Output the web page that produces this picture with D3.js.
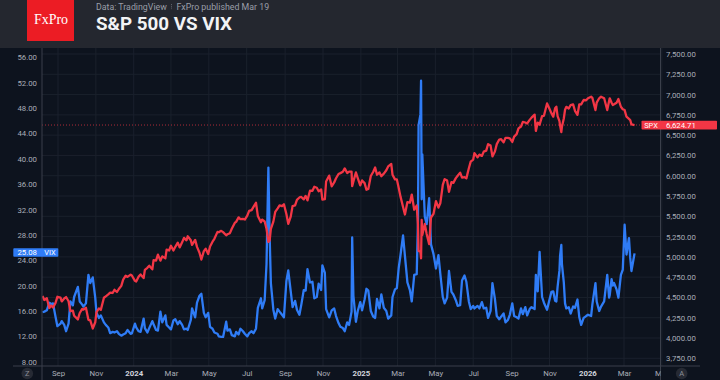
<!DOCTYPE html>
<html><head><meta charset="utf-8">
<script src="https://cdn.jsdelivr.net/npm/d3@7"></script>
<style>
html,body{margin:0;padding:0;background:#0d131e;}
svg{display:block;}
</style></head><body>
<svg id="c" width="720" height="380"></svg>
<script>
// ---------- DATA ----------
const dates = [
"2023-08-07","2023-08-10","2023-08-14","2023-08-18","2023-08-21","2023-08-24","2023-08-28","2023-08-31",
"2023-09-05","2023-09-07","2023-09-11","2023-09-14","2023-09-18","2023-09-21","2023-09-25","2023-09-27",
"2023-10-03","2023-10-06","2023-10-10","2023-10-12","2023-10-16","2023-10-20","2023-10-23","2023-10-27","2023-10-31",
"2023-11-02","2023-11-06","2023-11-09","2023-11-14","2023-11-17","2023-11-21","2023-11-24","2023-11-28",
"2023-12-01","2023-12-05","2023-12-08","2023-12-12","2023-12-15","2023-12-19","2023-12-22","2023-12-27","2023-12-29",
"2024-01-03","2024-01-05","2024-01-09","2024-01-12","2024-01-17","2024-01-19","2024-01-23","2024-01-26","2024-01-31",
"2024-02-02","2024-02-06","2024-02-09","2024-02-13","2024-02-16","2024-02-21","2024-02-23","2024-02-27",
"2024-03-01","2024-03-05","2024-03-08","2024-03-12","2024-03-15","2024-03-19","2024-03-22","2024-03-26","2024-03-28",
"2024-04-02","2024-04-04","2024-04-09","2024-04-12","2024-04-16","2024-04-19","2024-04-23","2024-04-26","2024-04-30",
"2024-05-03","2024-05-07","2024-05-10","2024-05-15","2024-05-17","2024-05-21","2024-05-24","2024-05-29","2024-05-31",
"2024-06-04","2024-06-07","2024-06-12","2024-06-14","2024-06-18","2024-06-21","2024-06-25","2024-06-28",
"2024-07-02","2024-07-05","2024-07-09","2024-07-12","2024-07-16","2024-07-19","2024-07-24","2024-07-26","2024-07-30",
"2024-08-02","2024-08-05","2024-08-07","2024-08-09","2024-08-13","2024-08-16","2024-08-20","2024-08-23","2024-08-27","2024-08-30",
"2024-09-03","2024-09-06","2024-09-10","2024-09-13","2024-09-17","2024-09-20","2024-09-24","2024-09-27",
"2024-10-01","2024-10-04","2024-10-07","2024-10-11","2024-10-15","2024-10-18","2024-10-22","2024-10-25","2024-10-29","2024-10-31",
"2024-11-04","2024-11-06","2024-11-11","2024-11-15","2024-11-19","2024-11-22","2024-11-26","2024-11-29",
"2024-12-03","2024-12-06","2024-12-10","2024-12-13","2024-12-17","2024-12-18","2024-12-20","2024-12-24","2024-12-27","2024-12-31",
"2025-01-03","2025-01-07","2025-01-10","2025-01-13","2025-01-17","2025-01-21","2025-01-24","2025-01-27","2025-01-31",
"2025-02-03","2025-02-07","2025-02-11","2025-02-14","2025-02-19","2025-02-21","2025-02-25","2025-02-28",
"2025-03-03","2025-03-06","2025-03-10","2025-03-13","2025-03-17","2025-03-21","2025-03-24","2025-03-28",
"2025-04-01","2025-04-03","2025-04-04","2025-04-07","2025-04-08","2025-04-09","2025-04-10","2025-04-14","2025-04-17","2025-04-21","2025-04-24","2025-04-28",
"2025-05-02","2025-05-06","2025-05-09","2025-05-13","2025-05-16","2025-05-20","2025-05-23","2025-05-27","2025-05-30",
"2025-06-03","2025-06-06","2025-06-10","2025-06-13","2025-06-17","2025-06-20","2025-06-24","2025-06-27",
"2025-07-01","2025-07-03","2025-07-08","2025-07-11","2025-07-15","2025-07-18","2025-07-22","2025-07-25","2025-07-29",
"2025-08-01","2025-08-05","2025-08-08","2025-08-12","2025-08-15","2025-08-19","2025-08-22","2025-08-26","2025-08-29",
"2025-09-02","2025-09-05","2025-09-09","2025-09-12","2025-09-16","2025-09-19","2025-09-23","2025-09-26","2025-09-30",
"2025-10-03","2025-10-08","2025-10-10","2025-10-13","2025-10-16","2025-10-20","2025-10-23","2025-10-28","2025-10-31",
"2025-11-04","2025-11-07","2025-11-10","2025-11-12","2025-11-14","2025-11-17","2025-11-18","2025-11-20","2025-11-21","2025-11-24","2025-11-26","2025-11-28",
"2025-12-02","2025-12-05","2025-12-09","2025-12-12","2025-12-16","2025-12-19","2025-12-22","2025-12-26","2025-12-30",
"2026-01-02","2026-01-07","2026-01-09","2026-01-14","2026-01-16","2026-01-20","2026-01-23","2026-01-28",
"2026-02-02","2026-02-05","2026-02-06","2026-02-09","2026-02-11","2026-02-13","2026-02-17","2026-02-20","2026-02-24","2026-02-27",
"2026-03-02","2026-03-05","2026-03-09","2026-03-11","2026-03-13","2026-03-18"
];
const spx = [
4518,4468,4490,4370,4400,4376,4433,4508,
4497,4451,4487,4505,4453,4330,4337,4274,
4229,4308,4358,4349,4374,4224,4217,4117,4194,
4318,4365,4347,4496,4514,4538,4559,4555,
4594,4567,4604,4643,4719,4768,4754,4781,4770,
4705,4697,4757,4784,4739,4840,4865,4891,4846,
4959,4954,5027,4953,5006,4982,5088,5079,
5137,5079,5124,5175,5117,5179,5234,5204,5254,
5205,5147,5209,5123,5051,4967,5071,5100,5036,
5128,5187,5223,5308,5303,5321,5305,5267,5278,
5292,5347,5421,5431,5487,5464,5469,5460,
5509,5567,5577,5615,5667,5505,5427,5459,5436,
5346,5186,5199,5344,5434,5554,5597,5634,5626,5648,
5529,5408,5496,5626,5634,5703,5732,5738,
5709,5751,5696,5815,5815,5864,5851,5808,5832,5705,
5712,5929,6001,5870,5917,5969,6021,6032,
6049,6090,6034,6051,6050,5872,5930,6040,5971,5882,
5942,5909,5827,5836,5997,6049,6101,6012,6041,
5994,6026,6068,6115,6144,6013,5955,5955,
5850,5739,5615,5522,5675,5668,5768,5581,
5633,5397,5074,5062,4982,5457,5268,5406,5283,5158,5485,5529,
5687,5607,5660,5886,5958,5940,5802,5922,5912,
5970,6000,6038,5977,5983,5967,6092,6173,
6198,6279,6226,6260,6244,6297,6309,6389,6371,
6238,6299,6389,6446,6450,6411,6467,6466,6460,
6416,6482,6513,6584,6607,6664,6656,6644,6688,
6716,6753,6552,6655,6629,6735,6738,6891,6840,
6771,6728,6832,6851,6734,6672,6617,6538,6603,6705,6813,6849,
6829,6870,6880,6800,6750,6880,6880,6933,6930,
6954,6974,6960,6809,6900,6954,6974,6954,
6809,6920,6954,6900,6871,6880,6900,6945,6850,6820,
6809,6727,6700,6686,6633,6624.71
];
const vix = [
15.8,15.9,16.1,17.3,17.1,17.2,15.1,13.6,
14.0,14.4,13.8,12.8,14.0,17.5,16.9,18.2,
19.8,17.5,17.0,16.7,17.2,21.7,20.4,21.3,18.1,
15.7,14.9,15.3,14.2,13.8,13.4,12.5,12.7,
12.6,12.8,12.4,12.1,12.3,12.5,13.0,12.4,12.45,
14.0,13.4,12.8,12.7,14.8,13.3,12.6,13.3,14.4,
13.9,13.0,12.9,15.9,14.2,15.3,13.8,13.4,
13.1,14.5,14.7,13.9,14.4,13.8,13.1,13.2,13.0,
14.6,16.4,15.0,17.3,18.4,18.7,15.7,15.0,15.7,
13.5,13.2,12.6,12.4,12.0,11.9,11.9,14.3,12.9,
13.1,12.2,12.0,12.7,12.3,13.2,12.8,12.4,
12.0,12.5,12.8,12.5,13.2,16.5,18.0,16.4,17.7,
23.4,38.6,27.9,20.4,16.2,14.8,16.3,15.9,15.4,15.0,
20.7,22.4,19.1,16.6,17.6,16.2,15.4,16.96,
19.3,19.2,22.6,20.5,20.6,18.0,18.2,20.3,19.3,23.2,
22.0,16.3,15.0,16.1,16.4,15.2,14.1,13.5,
13.3,12.8,14.2,13.8,15.9,27.6,18.4,14.3,16.0,17.4,
16.1,17.8,19.5,19.2,16.0,15.1,14.9,17.9,16.4,
18.6,16.5,16.0,14.8,15.3,18.2,19.4,19.6,
22.8,24.9,27.9,24.7,20.5,19.3,17.5,21.7,
21.8,30.0,45.3,47.0,52.3,33.6,40.7,30.9,29.7,33.8,26.5,25.0,
22.7,24.8,21.9,18.2,17.2,18.1,22.3,19.0,18.6,
17.7,16.8,16.9,20.8,21.6,20.6,17.5,16.3,
16.8,16.4,16.8,16.4,17.4,16.4,16.5,14.9,16.0,
20.4,17.9,15.2,14.7,15.1,15.6,14.2,14.6,15.4,
17.2,15.2,15.0,14.8,16.4,15.5,16.6,15.3,16.3,
16.6,16.3,21.7,19.1,25.3,18.2,17.3,16.2,17.4,
19.0,19.1,17.6,17.5,19.8,22.4,24.7,26.4,23.4,20.5,17.2,16.4,
16.6,15.6,16.7,16.5,17.8,15.0,13.8,14.9,15.2,
15.4,15.2,17.0,20.4,17.5,16.0,16.7,17.5,
21.7,18.1,18.5,21.0,20.0,20.4,19.4,18.1,21.7,22.5,
29.6,24.9,27.5,24.4,22.3,25.08
];
const monthTicks = ["2023-09-01","2023-11-01","2024-01-01","2024-03-01","2024-05-01","2024-07-01","2024-09-01","2024-11-01",
  "2025-01-01","2025-03-01","2025-05-01","2025-07-01","2025-09-01","2025-11-01","2026-01-01","2026-03-01","2026-05-01"];
const monthLabels = ["Sep","Nov","2024","Mar","May","Jul","Sep","Nov","2025","Mar","May","Jul","Sep","Nov","2026","Mar","May"];
const vixTicks = [8,12,16,20,24,28,32,36,40,44,48,52,56];
const spxTicks = [3750,4000,4250,4500,4750,5000,5250,5500,5750,6000,6250,6500,6750,7000,7250,7500];
const seriesNames = ["SPX","VIX"];
const title = "S&P 500 VS VIX";
const subtitleA = "Data: TradingView";
const subtitleB = "FxPro published Mar 19";

// ---------- LAYOUT ----------
const W = 720, H = 380;
const L = 42, R = 660.5, T = 48, B = 366;
const FONT = "Roboto, 'Liberation Sans', Arial, sans-serif";
const cRed = "#f23645", cBlue = "#2f7cf6";

const parse = d3.utcParse("%Y-%m-%d");
const svg = d3.select("#c");

const x = d3.scaleUtc().domain([parse("2023-09-01"), parse("2026-03-01")]).range([58, 624]);
const ySpx = d3.scaleLinear().domain([3750, 7500]).range([358.3, 54]);
const yVix = d3.scaleLinear().domain([8, 56]).range([361.7, 57.3]);

svg.append("rect").attr("width", W).attr("height", H).attr("fill", "#0d131e");

// gridlines
const grid = svg.append("g");
grid.selectAll("line.h").data(spxTicks).join("line")
  .attr("x1", L).attr("x2", R).attr("y1", d => ySpx(d)).attr("y2", d => ySpx(d))
  .attr("stroke", "#1a202c").attr("stroke-width", 1);
grid.selectAll("line.v").data(monthTicks.map(parse)).join("line")
  .attr("x1", d => x(d)).attr("x2", d => x(d)).attr("y1", T).attr("y2", B)
  .attr("stroke", "#1a202c").attr("stroke-width", 1);

// clip for plot
svg.append("clipPath").attr("id", "plot").append("rect")
  .attr("x", L).attr("y", T).attr("width", R - L).attr("height", B - T);

// last price dotted line
svg.append("line").attr("x1", L).attr("x2", R)
  .attr("y1", ySpx(spx[spx.length - 1])).attr("y2", ySpx(spx[spx.length - 1]))
  .attr("stroke", cRed).attr("stroke-opacity", 0.7).attr("stroke-width", 1)
  .attr("stroke-dasharray", "1,2");

const pts = dates.map((d, i) => ({ d: parse(d), s: spx[i], v: vix[i] }));
const gLines = svg.append("g").attr("clip-path", "url(#plot)");
gLines.append("path").datum(pts)
  .attr("d", d3.line().x(p => x(p.d)).y(p => yVix(p.v)))
  .attr("fill", "none").attr("stroke", cBlue).attr("stroke-width", 2.3).attr("stroke-linejoin", "round");
gLines.append("path").datum(pts)
  .attr("d", d3.line().x(p => x(p.d)).y(p => ySpx(p.s)))
  .attr("fill", "none").attr("stroke", cRed).attr("stroke-width", 2.3).attr("stroke-linejoin", "round");

// axis separator lines
const axC = "#3a3f4a";
svg.append("line").attr("x1", L).attr("x2", L).attr("y1", T).attr("y2", H).attr("stroke", axC);
svg.append("line").attr("x1", R).attr("x2", R).attr("y1", T).attr("y2", H).attr("stroke", axC);
svg.append("line").attr("x1", 13).attr("x2", 700).attr("y1", B).attr("y2", B).attr("stroke", axC);

// left axis (VIX)
const axL = svg.append("g").attr("transform", `translate(${L - 5},0)`)
  .call(d3.axisLeft(yVix).tickValues(vixTicks).tickFormat(d3.format(".2f")).tickSize(0).tickPadding(0));
axL.select(".domain").remove();
axL.selectAll("text").attr("fill", "#a9adb7").style("font", `7.8px ${FONT}`);

// right axis (SPX)
const axR = svg.append("g").attr("transform", `translate(${R + 5.5},0)`)
  .call(d3.axisRight(ySpx).tickValues(spxTicks).tickFormat(d3.format(",.2f")).tickSize(0).tickPadding(0));
axR.select(".domain").remove();
axR.selectAll("text").attr("fill", "#a9adb7").style("font", `7.8px ${FONT}`);

// bottom axis
svg.append("clipPath").attr("id", "bottom2").append("rect")
  .attr("x", L + 1).attr("y", -10).attr("width", R - L - 1).attr("height", 30);
const axB = svg.append("g").attr("transform", `translate(0,${B + 4})`).attr("clip-path", "url(#bottom2)")
  .call(d3.axisBottom(x).tickValues(monthTicks.map(parse)).tickFormat((d, i) => monthLabels[i]).tickSize(0).tickPadding(0));
axB.select(".domain").remove();
axB.selectAll("text")
  .attr("fill", (d, i) => /^\d{4}$/.test(monthLabels[i]) ? "#d1d4dc" : "#a9adb7")
  .style("font", (d, i) => (/^\d{4}$/.test(monthLabels[i]) ? "bold " : "") + `7.8px ${FONT}`);

// Z and A buttons
[["Z", 27.3], ["A", 681.7]].forEach(([t, cx]) => {
  svg.append("circle").attr("cx", cx).attr("cy", 373.5).attr("r", 5.8).attr("fill", "#262a34");
  svg.append("text").attr("x", cx).attr("y", 376.3).attr("text-anchor", "middle")
    .attr("fill", "#8c909a").style("font", `7.5px ${FONT}`).text(t);
});

// SPX tag
const ys = ySpx(spx[spx.length - 1]);
svg.append("rect").attr("x", 641.5).attr("y", ys - 4.4).attr("width", 75.5).attr("height", 8.8).attr("fill", cRed).attr("rx", 0.8);
svg.append("text").attr("x", 651).attr("y", ys + 2.8).attr("text-anchor", "middle")
  .attr("fill", "#ffffff").style("font", `7.4px ${FONT}`).text(seriesNames[0]);
svg.append("text").attr("x", R + 5.5).attr("y", ys + 2.8)
  .attr("fill", "#ffffff").style("font", `7.8px ${FONT}`).text(d3.format(",.2f")(spx[spx.length - 1]));

// VIX tag
const yv = yVix(vix[vix.length - 1]);
svg.append("rect").attr("x", 13.3).attr("y", yv - 5.2).attr("width", 45).attr("height", 8.6).attr("fill", cBlue).attr("rx", 0.8);
svg.append("text").attr("x", L - 5).attr("y", yv + 1.8).attr("text-anchor", "end")
  .attr("fill", "#ffffff").style("font", `7.8px ${FONT}`).text(d3.format(".2f")(vix[vix.length - 1]));
svg.append("text").attr("x", 50).attr("y", yv + 1.8).attr("text-anchor", "middle")
  .attr("fill", "#ffffff").style("font", `7.4px ${FONT}`).text(seriesNames[1]);

// header
svg.append("rect").attr("x", 0).attr("y", 0).attr("width", W).attr("height", T).attr("fill", "#24272f");
svg.append("rect").attr("x", 27).attr("y", 0).attr("width", 47).attr("height", 41).attr("fill", "#ec1c24");
svg.append("text").attr("x", 51).attr("y", 23.5).attr("text-anchor", "middle")
  .attr("fill", "#ffffff").style("font", "14px 'Liberation Serif', 'DejaVu Serif', serif").text("FxPro");
svg.append("text").attr("x", 96).attr("y", 9.6).attr("fill", "#9a9ea8")
  .style("font", `8.8px ${FONT}`).text(subtitleA);
svg.append("line").attr("x1", 171.5).attr("x2", 171.5).attr("y1", 4).attr("y2", 9.5)
  .attr("stroke", "#6c707a").attr("stroke-width", 0.8).attr("stroke-dasharray", "1,0.8");
svg.append("text").attr("x", 176.5).attr("y", 9.6).attr("fill", "#9a9ea8")
  .style("font", `8.8px ${FONT}`).text(subtitleB);
svg.append("text").attr("x", 96).attr("y", 30).attr("fill", "#f2f3f5")
  .style("font", `bold 18.8px ${FONT}`).text(title);
</script>
</body></html>
